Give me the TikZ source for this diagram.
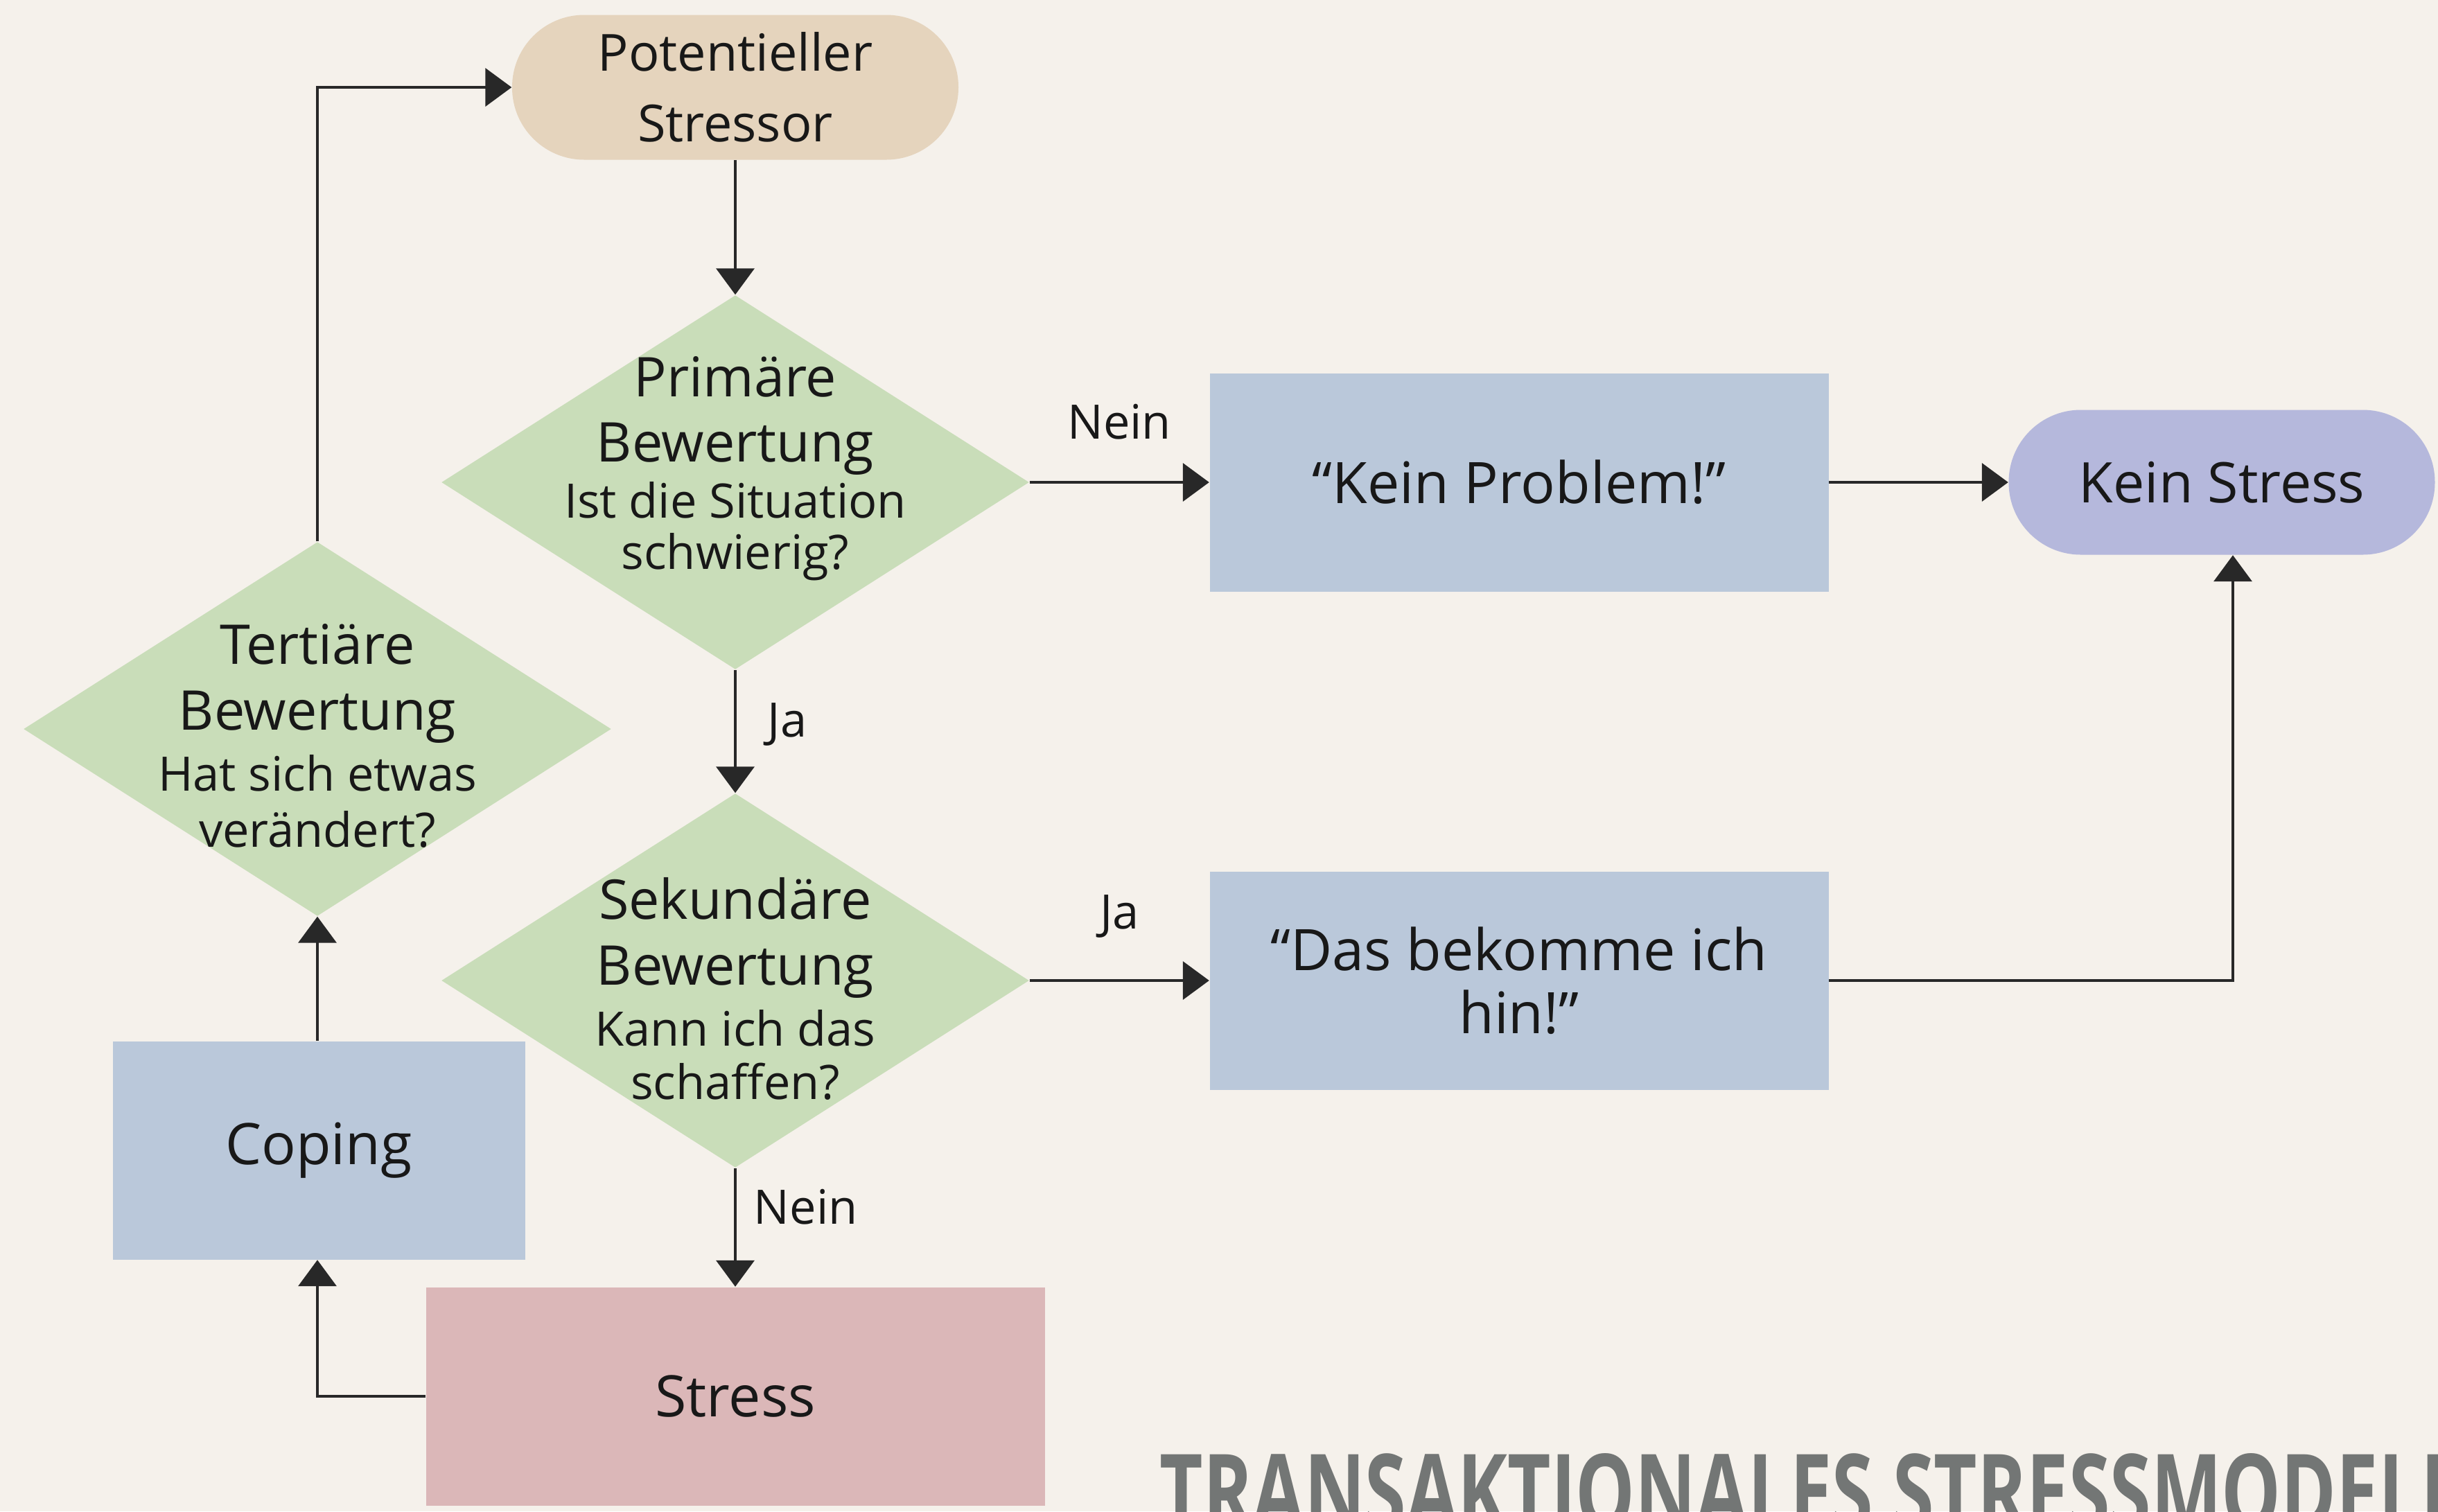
\documentclass[tikz,border=0pt]{standalone}
\usepackage{fontspec}
\setmainfont{Open Sans}
\usepackage{xcolor}
\usepackage{graphicx}
\usepackage{tikz}
\usetikzlibrary{arrows.meta}
\usetikzlibrary{shapes.geometric}
\usetikzlibrary{calc}

\definecolor{bgcream}{RGB}{245,241,235}
\definecolor{stressortan}{RGB}{229,212,189}
\definecolor{diagreen}{RGB}{201,221,185}
\definecolor{boxblue}{RGB}{186,200,218}
\definecolor{keinpurple}{RGB}{181,184,220}
\definecolor{stresspink}{RGB}{219,183,184}
\definecolor{titlegrey}{RGB}{115,118,117}
\definecolor{textdark}{RGB}{24,24,24}
\definecolor{linedark}{RGB}{40,40,40}

\newcommand{\dhead}{\fontsize{22.5}{27}\selectfont}
\newcommand{\dsub}{\fontsize{19.5}{22}\selectfont}

\begin{document}
\begin{tikzpicture}[
  >={Triangle[width=0.55cm,length=0.38cm]},
  term/.style={rectangle,rounded corners=1.04cm,minimum width=6.44cm,minimum height=2.09cm,inner sep=0pt,align=center,text=textdark},
  decision/.style={diamond,fill=diagreen,minimum width=8.48cm,minimum height=5.4cm,inner sep=0pt},
  dtext/.style={align=center,inner sep=0pt,text=textdark,font=\dhead},
  answer/.style={rectangle,minimum width=8.93cm,minimum height=3.15cm,inner sep=0pt,align=center,text=textdark,font=\fontsize{23.5}{26}\selectfont},
  flow/.style={draw=linedark,line width=1.1pt},
  elabel/.style={inner sep=0pt,text=textdark,font=\fontsize{19.5}{22}\selectfont}
]

\useasboundingbox (0,0) rectangle (35.18,-21.81);
\fill[bgcream] (0,0) rectangle (35.18,-21.81);

\node[term,fill=stressortan,font=\fontsize{21}{29}\selectfont] (stressor) at (10.61,-1.26) {Potentieller\\Stressor};

\node[decision] (prim) at (10.61,-6.96) {};
\node[dtext] (primtext) at ($(prim)+(0,0.2)$) {Primäre\\Bewertung\\[-4pt]\dsub Ist die Situation\\[-6pt]\dsub schwierig?};

\node[answer,fill=boxblue] (problem) at (21.92,-6.96) {“Kein Problem!"};
\node[term,fill=keinpurple,minimum width=6.15cm,font=\fontsize{23}{26}\selectfont] (keinstress) at (32.06,-6.96) {Kein Stress};

\node[decision] (sek) at (10.61,-14.15) {};
\node[dtext] (sektext) at ($(sek)+(0,-0.12)$) {Sekundäre\\Bewertung\\[-2pt]\dsub Kann ich das\\[-5pt]\dsub schaffen?};

\node[answer,fill=boxblue] (bekomme) at (21.92,-14.15) {“Das bekomme ich\\hin!"};

\node[answer,fill=stresspink] (stress) at (10.61,-20.15) {Stress};

\node[answer,fill=boxblue,minimum width=5.95cm] (coping) at (4.6,-16.6) {Coping};

\node[decision] (tert) at (4.58,-10.52) {};
\node[dtext] (terttext) at ($(tert)+(0,-0.1)$) {Tertiäre\\Bewertung\\[-2pt]\dsub Hat sich etwas\\[-4pt]\dsub verändert?};

\node[anchor=north west,inner sep=0pt,text=titlegrey] (title) at (16.73,-20.97) {\resizebox{18.8cm}{1.1cm}{\bfseries TRANSAKTIONALES STRESSMODELL}};

\draw[flow,->] (stressor) -- (prim);
\draw[flow,->] (prim) -- node[elabel,midway,above=0.6cm] (nein1) {Nein} (problem);
\draw[flow,->] (problem) -- (keinstress);
\draw[flow,->] (prim) -- node[elabel,midway,right=0.45cm,yshift=0.1cm] (ja1) {Ja} (sek);
\draw[flow,->] (sek) -- node[elabel,midway,above=0.6cm] (ja2) {Ja} (bekomme);
\draw[flow,->] (bekomme.east) -| ($(keinstress.south)+(0.16,0)$);
\draw[flow,->] (sek) -- node[elabel,midway,right=0.25cm,yshift=0.3cm] (nein2) {Nein} (stress);
\draw[flow,->] (stress.west) -| (coping.south -| tert.south);
\draw[flow,->] (coping.north -| tert.south) -- (tert.south);
\draw[flow,->] (tert.north) |- (stressor.west);

\end{tikzpicture}
\end{document}
